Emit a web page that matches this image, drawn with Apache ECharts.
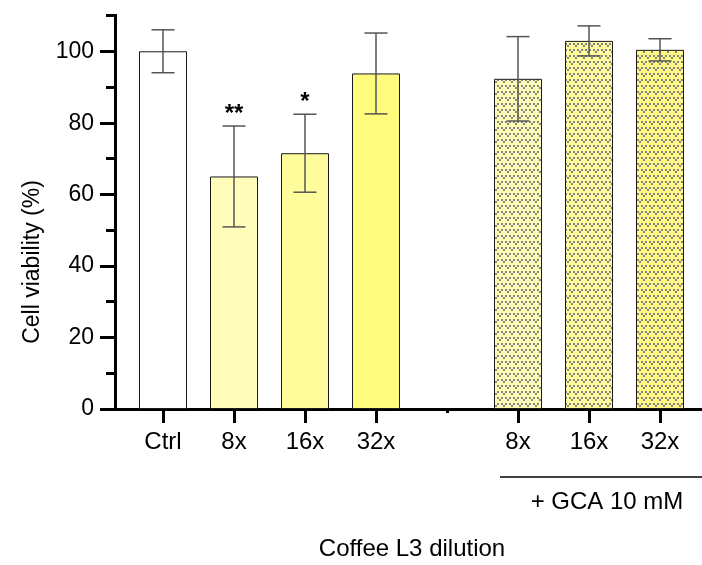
<!DOCTYPE html>
<html><head><meta charset="utf-8">
<script src="https://cdn.jsdelivr.net/npm/echarts@6/dist/echarts.min.js"></script>
<style>html,body{margin:0;padding:0;background:#fff}#c{width:702px;height:565px}</style>
</head><body><div id="c"></div>
<script>
// ---- data ----
const categories = ['Ctrl', '8x', '16x', '32x', '', '8x', '16x', '32x'];
const viability = [100, 65.0, 71.5, 93.8, null, 92.3, 102.9, 100.4];
const sdErrors = [6.0, 14.1, 10.9, 11.3, null, 11.8, 4.2, 3.1];
const significance = ['', '**', '*', '', '', '', '', ''];
const withGCA = [false, false, false, false, false, true, true, true];
const yTickLabels = [0, 20, 40, 60, 80, 100];

// ---- styles ----
const FONT = '"Liberation Sans", Arial, sans-serif';
const barFills = ['#ffffff', '#fffdb9', '#fffc9c', '#fffc7d', null, '#fffcb6', '#fffa9c', '#fff984'];

function makePattern(bg) {
  const c = document.createElement('canvas');
  c.width = 8; c.height = 12;
  const g = c.getContext('2d');
  g.fillStyle = bg; g.fillRect(0, 0, 8, 12);
  g.fillStyle = '#858585';
  const v = (x, y) => {
    g.fillRect(x, y, 2, 2);
    g.fillRect(x + 4, y, 2, 2);
    g.fillRect(x + 2, y + 2, 2, 2);
  };
  v(1, 1);
  v(5, 7); v(-3, 7);
  return c;
}

const barData = viability.map((v, i) => {
  if (v == null) return null;
  const color = withGCA[i] ? { image: makePattern(barFills[i]), repeat: 'repeat' } : barFills[i];
  return { value: v, itemStyle: { color: color, borderColor: '#1a1a1a', borderWidth: 1 } };
});
const errData = viability.map((v, i) => v == null ? null : [i, v, sdErrors[i]]).filter(d => d);

const chart = echarts.init(document.getElementById('c'), null, { renderer: 'canvas' });
const option = {
  animation: false,
  backgroundColor: '#fff',
  grid: [
    { left: 115, right: 0, top: 15.5, bottom: 156 },
    { left: 127.5, width: 568, top: 15.5, bottom: 156 },
    { left: 115, right: 0, top: 51.7, bottom: 156 }
  ],
  xAxis: [
    { gridIndex: 0, type: 'value', min: 0, max: 1,
      axisLine: { show: true, onZero: false, lineStyle: { color: '#000', width: 3, cap: 'square' } },
      axisTick: { show: false }, axisLabel: { show: false }, splitLine: { show: false } },
    { gridIndex: 1, type: 'category', position: 'bottom', data: categories,
      axisLine: { show: false },
      axisTick: { show: true, alignWithLabel: true, length: 14, interval: (i) => i !== 4,
                  lineStyle: { color: '#000', width: 3 } },
      axisLabel: { interval: 0, margin: 21, color: '#000', fontSize: 24, fontFamily: FONT },
      splitLine: { show: false } },
    { gridIndex: 2, type: 'value', show: false, min: 0, max: 1 },
    { gridIndex: 1, type: 'category', position: 'bottom', offset: 0, data: categories,
      axisLine: { show: false },
      axisTick: { show: true, alignWithLabel: true, length: 4, interval: (i) => i === 4,
                  lineStyle: { color: '#000', width: 3 } },
      axisLabel: { show: false }, splitLine: { show: false } }
  ],
  yAxis: [
    { gridIndex: 0, type: 'value', min: 0, max: 110, interval: 10,
      axisLine: { show: true, lineStyle: { color: '#000', width: 3, cap: 'square' } },
      axisTick: { show: true, length: 9, lineStyle: { color: '#000', width: 3 } },
      axisLabel: { show: false }, splitLine: { show: false } },
    { gridIndex: 1, type: 'value', min: 0, max: 110, show: false },
    { gridIndex: 2, type: 'value', min: yTickLabels[0], max: yTickLabels[yTickLabels.length - 1],
      interval: yTickLabels[1] - yTickLabels[0],
      axisLine: { show: false },
      axisTick: { show: true, length: 15, lineStyle: { color: '#000', width: 3 } },
      axisLabel: { margin: 21, color: '#000', fontSize: 23, fontFamily: FONT },
      splitLine: { show: false } }
  ],
  series: [
    { type: 'bar', xAxisIndex: 1, yAxisIndex: 1, data: barData, barWidth: 48, z: 2 },
    { type: 'custom', xAxisIndex: 1, yAxisIndex: 1, data: errData, z: 3,
      renderItem: function (params, api) {
        const idx = api.value(0), v = api.value(1), e = api.value(2);
        const top = api.coord([idx, v + e]);
        const bot = api.coord([idx, v - e]);
        const hw = 11.5;
        const ls = { stroke: '#555', lineWidth: 1.5 };
        const children = [
          { type: 'line', shape: { x1: top[0], y1: top[1], x2: bot[0], y2: bot[1] }, style: ls },
          { type: 'line', shape: { x1: top[0] - hw, y1: top[1], x2: top[0] + hw, y2: top[1] }, style: ls },
          { type: 'line', shape: { x1: bot[0] - hw, y1: bot[1], x2: bot[0] + hw, y2: bot[1] }, style: ls }
        ];
        const s = significance[idx];
        if (s) {
          children.push({ type: 'text', style: { text: s, x: top[0], y: top[1], align: 'center',
            verticalAlign: 'bottom', fontSize: 24, fontWeight: 'bold', fontFamily: FONT, fill: '#000' } });
        }
        return { type: 'group', children: children };
      } }
  ],
  graphic: [
    { type: 'text', x: 33, y: 262, rotation: Math.PI / 2,
      style: { text: 'Cell viability (%)', align: 'center', verticalAlign: 'middle',
               fontSize: 23, fontFamily: FONT, fill: '#000' } },
    { type: 'line', shape: { x1: 500, y1: 477, x2: 702, y2: 477 }, style: { stroke: '#000', lineWidth: 1.5 } },
    { type: 'text', x: 607, y: 502,
      style: { text: '+ GCA 10 mM', align: 'center', verticalAlign: 'middle', fontSize: 24, fontFamily: FONT, fill: '#000' } },
    { type: 'text', x: 412, y: 549,
      style: { text: 'Coffee L3 dilution', align: 'center', verticalAlign: 'middle', fontSize: 24, fontFamily: FONT, fill: '#000' } }
  ]
};
chart.setOption(option);
</script>
</body></html>
